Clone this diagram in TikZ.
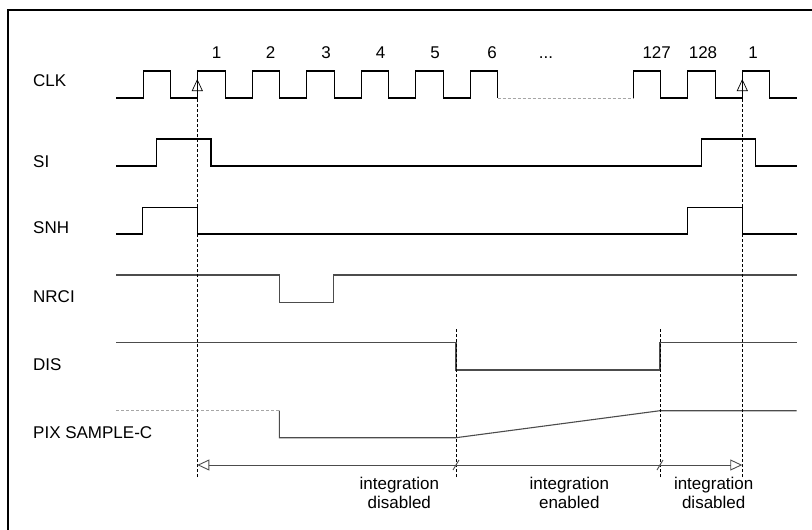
\documentclass[tikz,border=0pt]{standalone}
\usepackage{fontspec}
\setmainfont{Liberation Sans}
\usetikzlibrary{arrows.meta}
\tikzset{
x=1pt, y=-1pt, % pixel-like grid, y grows downwards
>={Triangle[open, length=12pt, width=11pt]}, % hollow arrow heads
wave/.style={line width=1.1pt, black}, % signal traces
softwave/.style={line width=1.1pt, black!70}, % lighter signal traces
idle/.style={line width=0.6pt, black!35, densely dashed}, % don't-care stretches
marker/.style={line width=0.7pt, dash pattern=on 3pt off 2pt}, % vertical time markers
span/.style={line width=0.9pt, black!70}, % integration window arrow
tag/.style={anchor=base west, inner sep=0pt}, % signal names
count/.style={anchor=base, inner sep=0pt}, % clock numbers
phase/.style={align=center, inner sep=0pt}, % window captions
}

\begin{document}
\begin{tikzpicture}[font=\fontsize{17}{19.5}\selectfont]
    \useasboundingbox (0,0) rectangle (812,530);
    \draw[line width=1.2pt] (8,530) -- (8,10) -- (812,10);

    % signal names
    \node[tag] (clk) at (33,86) {CLK};
    \node[tag] (si) at (33,167) {SI};
    \node[tag] (snh) at (33,233) {SNH};
    \node[tag] (nrci) at (33,302) {NRCI};
    \node[tag] (dis) at (33,370) {DIS};
    \node[tag] (pix) at (33,438) {PIX SAMPLE-C};

    % clock numbers
    \foreach \n/\x in {1/216.7, 2/270.7, 3/326, 4/380.7, 5/435, 6/492, {...}/546, 127/656.7, 128/703, 1/753}
        \node[count] at (\x,58) {\n};

    % time marks
    \coordinate (load) at (197.3,477);
    \coordinate (enable) at (456,477);
    \coordinate (stop) at (660,477);
    \coordinate (reload) at (742.3,477);

    % CLK
    \draw[wave] (116,98) foreach \r in {143.3,197.8,252.3,306.8,361.3,415.8,470.3} {
        -- (\r,98) |- (\r+27.3,71) -- (\r+27.3,98)};
    \draw[idle] (497.6,98) -- (633.3,98);
    \draw[wave] (633.3,98) foreach \r in {633.3,687.8,742.3} {
        -- (\r,98) |- (\r+27.3,71) -- (\r+27.3,98)} -- (796.7,98);

    % SI
    \draw[wave] (116,166) -- (156.5,166) |- (211,139) -- (211,166)
        -- (701.7,166) |- (755.7,139) -- (755.7,166) -- (796.7,166);

    % SNH
    \draw[wave] (116,234) -- (142.7,234) |- (197.3,207.3) -- (197.3,234)
        -- (687.7,234) |- (742.3,207.3) -- (742.3,234) -- (796.7,234);

    % NRCI
    \draw[softwave] (116,275) -- (279.3,275) |- (333.3,302.3) -- (333.3,275) -- (796.7,275);

    % DIS
    \draw[softwave] (116,342.7) -- (456,342.7) |- (660,370) -- (660,342.7) -- (796.7,342.7);

    % PIX SAMPLE-C
    \draw[idle] (116,410.7) -- (279.3,410.7);
    \draw[softwave] (279.3,410.7) -- (279.3,437.7) -- (456,437.7) -- (660,410.7) -- (796.7,410.7);

    % markers
    \draw[marker, ->] (load) -- (load |- 0,79);
    \draw[marker, ->] (reload) -- (reload |- 0,79);
    \draw[marker] (enable) -- (enable |- 0,329);
    \draw[marker] (stop) -- (stop |- 0,329);

    % integration window
    \draw[span, <->] (load |- 0,465) -- (reload |- 0,465);
    \draw[span] (453,470) -- (459,460);
    \draw[span] (657,470) -- (663,460);

    \node[phase] (off1) at (399.3,493) {integration\\disabled};
    \node[phase] (on) at (569.3,493) {integration\\enabled};
    \node[phase] (off2) at (713.7,493) {integration\\disabled};
\end{tikzpicture}
\end{document}
